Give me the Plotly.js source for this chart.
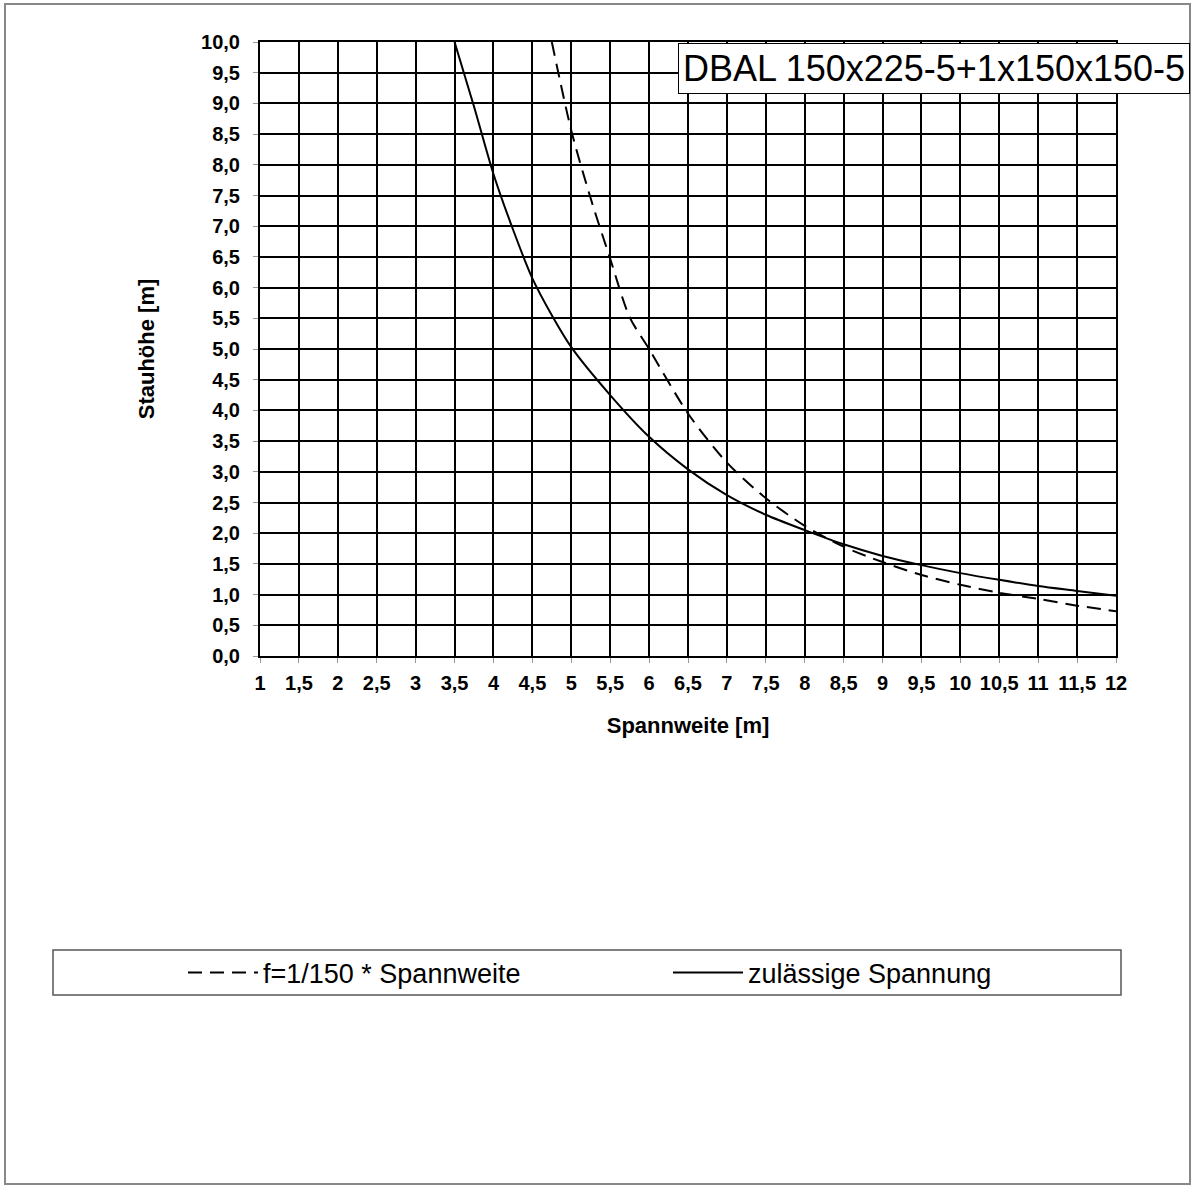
<!DOCTYPE html>
<html>
<head>
<meta charset="utf-8">
<script src="https://cdn.plot.ly/plotly-3.0.1.min.js"></script>
<style>html,body{margin:0;padding:0;background:#fff;}#chart{width:1192px;height:1187px;}</style>
</head>
<body>
<div id="chart"></div>
<script>
// Data
const spanDeflX = [4.75, 5, 5.25, 5.5, 5.75, 6, 6.5, 7, 7.5, 8, 8.5, 9, 9.5, 10, 10.5, 11, 11.5, 12];
const spanDeflY = [10, 8.56, 7.45, 6.47, 5.52, 5.0, 3.95, 3.15, 2.57, 2.12, 1.78, 1.53, 1.32, 1.16, 1.03, 0.93, 0.82, 0.73];
const stressX = [3.5, 3.75, 4, 4.25, 4.5, 4.75, 5, 5.5, 6, 6.5, 7, 7.5, 8, 8.5, 9, 9.5, 10, 10.5, 11, 11.5, 12];
const stressY = [10, 8.95, 7.85, 6.95, 6.15, 5.55, 5.03, 4.25, 3.57, 3.04, 2.62, 2.3, 2.05, 1.82, 1.63, 1.48, 1.35, 1.24, 1.14, 1.06, 0.98];

const xTickVals = [1,1.5,2,2.5,3,3.5,4,4.5,5,5.5,6,6.5,7,7.5,8,8.5,9,9.5,10,10.5,11,11.5,12];
const xTickText = ["1","1,5","2","2,5","3","3,5","4","4,5","5","5,5","6","6,5","7","7,5","8","8,5","9","9,5","10","10,5","11","11,5","12"];
const yTickVals = [0,0.5,1,1.5,2,2.5,3,3.5,4,4.5,5,5.5,6,6.5,7,7.5,8,8.5,9,9.5,10];
const yTickText = ["0,0","0,5","1,0","1,5","2,0","2,5","3,0","3,5","4,0","4,5","5,0","5,5","6,0","6,5","7,0","7,5","8,0","8,5","9,0","9,5","10,0"];

const seriesNames = ["f=1/150 * Spannweite", "zulässige Spannung"];
const chartLabel = "DBAL 150x225-5+1x150x150-5";
const xTitle = "Spannweite [m]";
const yTitle = "Stauhöhe [m]";

const FONT = "Liberation Sans, Arial, sans-serif";

const traces = [
  {x: spanDeflX, y: spanDeflY, name: seriesNames[0], type: 'scatter', mode: 'lines',
   line: {color: '#000', width: 2, dash: '14px,8px', shape: 'spline', smoothing: 0.8}},
  {x: stressX, y: stressY, name: seriesNames[1], type: 'scatter', mode: 'lines',
   line: {color: '#000', width: 2, shape: 'spline', smoothing: 0.8}}
];

const W = 1192, H = 1187, L = 260, R = 76, T = 42, B = 531;
const pw = W - L - R, ph = H - T - B;
const px = v => (v - L) / pw;
const py = v => (H - B - v) / ph;

const layout = {
  width: W, height: H,
  margin: {l: L, r: R, t: T, b: B, pad: 0},
  paper_bgcolor: '#fff', plot_bgcolor: '#fff',
  font: {family: FONT, color: '#000'},
  showlegend: true,
  legend: {orientation: 'h', x: px(183), y: py(973), xanchor: 'left', yanchor: 'middle',
    bgcolor: 'rgba(0,0,0,0)', borderwidth: 0, font: {family: FONT, size: 27, color: '#000'},
    entrywidth: 400, entrywidthmode: 'pixels', itemwidth: 70, traceorder: 'normal'},
  xaxis: {range: [1, 12], tickvals: xTickVals, ticktext: xTickText,
    showgrid: true, gridcolor: '#000', gridwidth: 2, zeroline: false,
    showline: true, linecolor: '#000', linewidth: 2, mirror: true,
    ticks: 'outside', ticklen: 5, tickcolor: '#999', tickwidth: 1, ticklabelstandoff: 3,
    tickfont: {family: FONT, size: 20, weight: 'bold', color: '#000'},
    title: {text: xTitle, standoff: 25, font: {family: FONT, size: 22, weight: 'bold', color: '#000'}},
    fixedrange: true},
  yaxis: {range: [0, 10], tickvals: yTickVals, ticktext: yTickText,
    showgrid: true, gridcolor: '#000', gridwidth: 2, zeroline: false,
    showline: true, linecolor: '#000', linewidth: 2, mirror: true,
    ticks: 'outside', ticklen: 5, tickcolor: '#999', tickwidth: 1, ticklabelstandoff: 9,
    tickfont: {family: FONT, size: 20, weight: 'bold', color: '#000'},
    title: {text: yTitle, standoff: 40, font: {family: FONT, size: 22, weight: 'bold', color: '#000'}},
    fixedrange: true},
  annotations: [{
    text: chartLabel, xref: 'paper', yref: 'paper', x: px(1190), y: py(43),
    xanchor: 'right', yanchor: 'top', showarrow: false,
    font: {family: FONT, size: 36, color: '#000'},
    bgcolor: '#fff', bordercolor: '#000', borderwidth: 1, borderpad: 4
  }],
  shapes: [
    {type: 'rect', xref: 'paper', yref: 'paper', x0: px(5), x1: px(1190), y0: py(1184), y1: py(4),
     line: {color: '#888', width: 2}, layer: 'below'},
    {type: 'rect', xref: 'paper', yref: 'paper', x0: px(53), x1: px(1121), y0: py(995), y1: py(950),
     line: {color: '#555', width: 1.5}, layer: 'below'}
  ]
};

Plotly.newPlot('chart', traces, layout, {displayModeBar: false, staticPlot: true});
</script>
</body>
</html>
